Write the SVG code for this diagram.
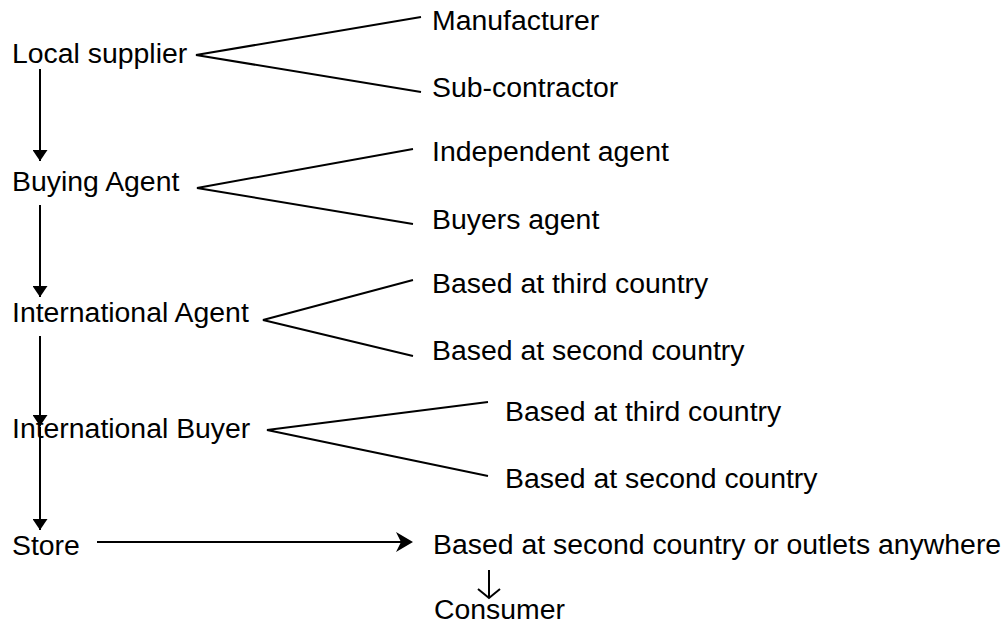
<svg xmlns="http://www.w3.org/2000/svg" width="1006" height="625" viewBox="0 0 1006 625">
  <style>
    text { font-family: "Liberation Sans", Arial, sans-serif; font-size: 28.4px; fill: #000; }
    .ln { stroke: #000; stroke-width: 2; fill: none; }
  </style>
  <defs>
    <marker id="tri" viewBox="0 0 11 15" refX="11" refY="7.5" markerWidth="11" markerHeight="15" markerUnits="userSpaceOnUse" orient="auto">
      <path d="M0,0 L11,7.5 L0,15 Z" fill="#000"/>
    </marker>
  </defs>
  <rect width="1006" height="625" fill="#fff"/>

  <!-- main chain -->
  <g id="local-supplier"><text x="12" y="63">Local supplier</text></g>
  <g id="buying-agent"><text x="12" y="191">Buying Agent</text></g>
  <g id="international-agent"><text x="12" y="322">International Agent</text></g>
  <g id="international-buyer"><text x="12" y="438">International Buyer</text></g>
  <g id="store"><text x="12" y="555">Store</text></g>

  <!-- branches -->
  <g id="manufacturer"><text x="432" y="30">Manufacturer</text></g>
  <g id="sub-contractor"><text x="432" y="97">Sub-contractor</text></g>
  <g id="independent-agent"><text x="432" y="161">Independent agent</text></g>
  <g id="buyers-agent"><text x="432" y="229">Buyers agent</text></g>
  <g id="ia-third"><text x="432" y="293">Based at third country</text></g>
  <g id="ia-second"><text x="432" y="360">Based at second country</text></g>
  <g id="ib-third"><text x="505" y="421">Based at third country</text></g>
  <g id="ib-second"><text x="505" y="488">Based at second country</text></g>
  <g id="outlets"><text x="433" y="554">Based at second country or outlets anywhere</text></g>
  <g id="consumer"><text x="434" y="619">Consumer</text></g>

  <g id="connectors">
    <!-- vertical flow -->
    <line class="ln" x1="40" y1="69" x2="40" y2="161" marker-end="url(#tri)"/>
    <line class="ln" x1="40" y1="205" x2="40" y2="297" marker-end="url(#tri)"/>
    <line class="ln" x1="40" y1="336" x2="40" y2="426" marker-end="url(#tri)"/>
    <line class="ln" x1="40" y1="427" x2="40" y2="530" marker-end="url(#tri)"/>
    <!-- forks -->
    <polyline class="ln" points="421,17 196,55 421,92"/>
    <polyline class="ln" points="413,149 197,188 413,224"/>
    <polyline class="ln" points="413,280 263,320 413,356"/>
    <polyline class="ln" points="488,402 267,430 488,476"/>
    <!-- store to outlets -->
    <line class="ln" x1="97" y1="542" x2="404" y2="542"/>
    <path d="M413,542 L396,532 L401,542 L396,552 Z" fill="#000"/>
    <!-- outlets to consumer -->
    <line class="ln" x1="489" y1="570" x2="489" y2="598"/>
    <polyline class="ln" points="478,589 489,598 500,589"/>
  </g>
</svg>
